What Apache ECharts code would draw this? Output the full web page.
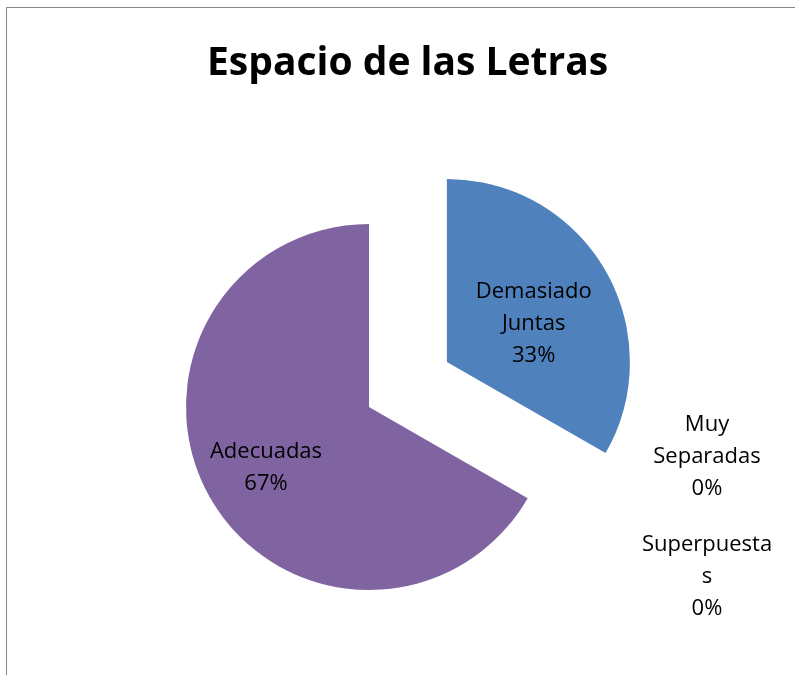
<!DOCTYPE html>
<html>
<head>
<meta charset="utf-8">
<script src="https://cdn.jsdelivr.net/npm/echarts@6/dist/echarts.min.js"></script>
<style>
html,body{margin:0;padding:0;background:#fff;}
#chart{width:795px;height:675px;}
</style>
</head>
<body>
<div id="chart"></div>
<script>
const titleText = 'Espacio de las Letras';
const categories = ['Demasiado Juntas', 'Adecuadas', 'Muy Separadas', 'Superpuestas'];
const labelNames = ['Demasiado\nJuntas', 'Adecuadas', 'Muy\nSeparadas', 'Superpuesta\ns'];
const values = [33.3, 66.7, 0, 0];
const colors = ['#4F81BD', '#8064A2', '#C0504D', '#9BBB59'];

const chart = echarts.init(document.getElementById('chart'), null, {renderer: 'canvas'});
const FONT = 'Open Sans';

const data = categories.map((c, i) => ({
  name: c,
  value: values[i],
  selected: i === 0,
  itemStyle: {color: colors[i]},
  select: {itemStyle: {color: colors[i]}},
  label: i === 0
    ? {formatter: '{sp|}\n' + labelNames[i] + '\n{d}%', padding: [0, 0, 0, 10], rich: {sp: {lineHeight: 18, fontSize: 1}}}
    : {formatter: labelNames[i] + '\n{d}%'}
}));

chart.setOption({
  animation: false,
  title: {
    text: titleText,
    left: 202,
    top: 39,
    textStyle: {fontFamily: FONT, fontWeight: 'bold', fontSize: 39, color: '#000'}
  },
  graphic: [{
    type: 'rect',
    shape: {x: 6.5, y: 7.5, width: 820, height: 700},
    style: {fill: 'none', stroke: '#878787', lineWidth: 1},
    silent: true
  }],
  series: [{
    type: 'pie',
    center: [369, 407],
    radius: 183,
    startAngle: 90,
    clockwise: true,
    selectedMode: 'single',
    selectedOffset: 90,
    avoidLabelOverlap: false,
    percentPrecision: 0,
    label: {
      show: true,
      position: 'inside',
      fontFamily: FONT,
      fontSize: 22,
      lineHeight: 32,
      color: '#000',
      align: 'center'
    },
    labelLine: {show: false},
    emphasis: {disabled: true},
    labelLayout: function (p) {
      if (p.dataIndex === 0) return {};
      const pos = [null, [266, 468], [707, 457], [707, 577]];
      return {x: pos[p.dataIndex][0], y: pos[p.dataIndex][1], align: 'center', verticalAlign: 'middle'};
    },
    data: data
  }]
});
</script>
</body>
</html>
